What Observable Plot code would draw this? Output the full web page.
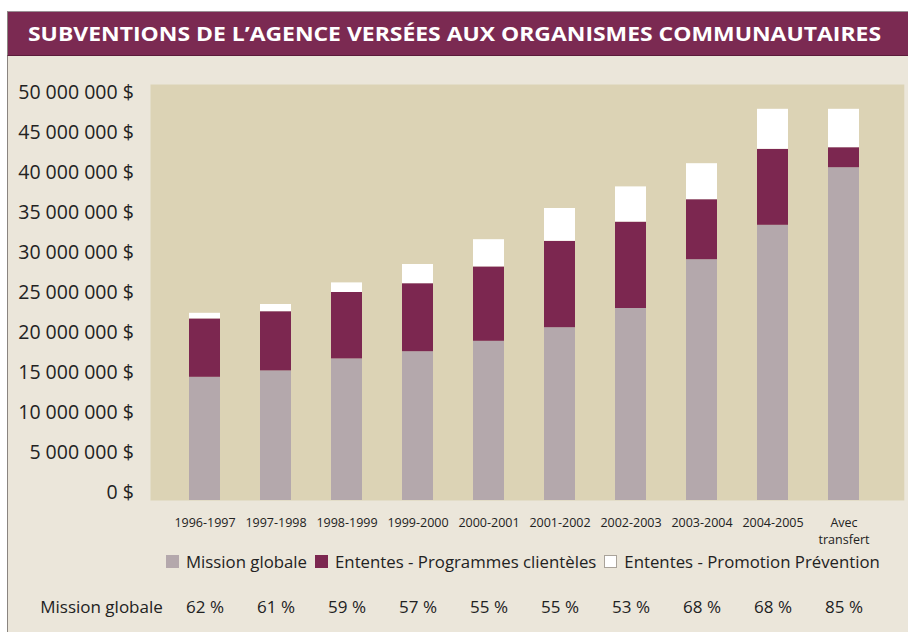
<!DOCTYPE html>
<html>
<head>
<meta charset="utf-8">
<script src="https://cdn.jsdelivr.net/npm/d3@7"></script>
<script src="https://cdn.jsdelivr.net/npm/@observablehq/plot@0.6"></script>
<style>
  html, body { margin: 0; padding: 0; background: #ffffff; }
  #wrap { position: relative; width: 908px; height: 632px; overflow: hidden; font-family: 'Open Sans', sans-serif; }
  #panel { position: absolute; left: 7px; top: 56px; width: 901px; height: 576px; background: #ebe6da; border-left: 1px solid #8a8580; box-sizing: border-box; }
  #titlebar { position: absolute; left: 7px; top: 11px; width: 901px; height: 45px; background: #7b2a52; border-top: 1px solid #9a8f94; border-left: 1px solid #8a8580; border-bottom: 1px solid #5c1c3b; box-sizing: border-box; }
  #title { position: absolute; left: 20px; top: 50%; color: #ffffff; font-weight: 700; font-size: 20px; white-space: nowrap; transform-origin: 0 50%; line-height: 1; }
  #chart { position: absolute; left: 0; top: 0; }
  #legend { position: absolute; left: 166px; top: 550px; display: flex; align-items: center; font-size: 16.8px; color: #222; white-space: nowrap; }
  #legend .sw { width: 13px; height: 13px; box-sizing: border-box; margin-right: 7px; }
  #legend .it { display: flex; align-items: center; margin-right: 8px; }
</style>
</head>
<body>
<div id="wrap">
  <div id="panel"></div>
  <div id="titlebar"><span id="title">SUBVENTIONS DE L’AGENCE VERSÉES AUX ORGANISMES COMMUNAUTAIRES</span></div>
  <div id="chart"></div>
  <div id="legend"></div>
</div>
<script>
const categories = ["1996-1997", "1997-1998", "1998-1999", "1999-2000", "2000-2001", "2001-2002", "2002-2003", "2003-2004", "2004-2005", "Avec transfert"];
const seriesNames = ["Mission globale", "Ententes - Programmes clientèles", "Ententes - Promotion Prévention"];
const seriesColors = ["#b4a8ac", "#7c2750", "#ffffff"];
// values in millions of dollars
const missionGlobale = [15.4, 16.2, 17.7, 18.6, 19.9, 21.6, 24.0, 30.1, 34.4, 41.6];
const programmesClienteles = [7.3, 7.4, 8.3, 8.5, 9.3, 10.8, 10.8, 7.5, 9.5, 2.5];
const promotionPrevention = [0.7, 0.9, 1.2, 2.4, 3.4, 4.1, 4.4, 4.5, 5.0, 4.8];
const missionPct = ["62 %", "61 %", "59 %", "57 %", "55 %", "55 %", "53 %", "68 %", "68 %", "85 %"];
const yTicks = [0, 5e6, 10e6, 15e6, 20e6, 25e6, 30e6, 35e6, 40e6, 45e6, 50e6];
const pctRowLabel = "Mission globale";

const seriesValues = [missionGlobale, programmesClienteles, promotionPrevention];
const rows = [];
seriesNames.forEach((s, si) => {
  categories.forEach((c, ci) => rows.push({cat: c, series: s, value: seriesValues[si][ci] * 1e6}));
});
const pctRows = categories.map((c, i) => ({cat: c, text: missionPct[i]}));

const fmtMoney = d => d3.format(",")(d).replace(/,/g, "\u00a0") + "\u00a0$";

const chart = Plot.plot({
  width: 908,
  height: 632,
  marginTop: 84,
  marginBottom: 132,
  marginLeft: 145.3,
  marginRight: 5.7,
  style: {fontFamily: "'Open Sans', sans-serif", background: "transparent", color: "#222"},
  x: {type: "band", domain: categories, padding: 0.558, label: null},
  y: {domain: [0, 52e6], label: null},
  color: {domain: seriesNames, range: seriesColors},
  marks: [
    Plot.frame({fill: "#dcd3b5", stroke: null, insetLeft: 4.7, insetRight: -1.5}),
    Plot.barY(rows, {x: "cat", y: "value", fill: "series"}),
    Plot.axisY({ticks: yTicks, tickFormat: fmtMoney, tickSize: 0, tickPadding: 12, fontSize: 19.5, dy: -8, fill: "#222", label: null}),
    Plot.axisX({tickSize: 0, tickPadding: 14, fontSize: 12.5, fontWeight: 500, lineHeight: 1.37, fill: "#222", label: null,
      tickFormat: d => d.replace("Avec ", "Avec\n")}),
    Plot.text(pctRows, {x: "cat", text: "text", frameAnchor: "bottom", dy: 112, fontSize: 17, fill: "#222"}),
    Plot.text([pctRowLabel], {text: d => d, frameAnchor: "bottom-left", textAnchor: "end", dx: 17, dy: 112, fontSize: 17, fill: "#222"})
  ]
});
document.getElementById("chart").appendChild(chart);

// legend
const legend = document.getElementById("legend");
seriesNames.forEach((s, i) => {
  const it = document.createElement("div");
  it.className = "it";
  const sw = document.createElement("div");
  sw.className = "sw";
  sw.style.background = seriesColors[i];
  if (seriesColors[i] === "#ffffff") sw.style.border = "1px solid #a9a39a";
  const tx = document.createElement("span");
  tx.textContent = s;
  it.appendChild(sw); it.appendChild(tx);
  legend.appendChild(it);
});

// fit title width (condensed look, spans x 27..880)
const t = document.getElementById("title");
const w = t.getBoundingClientRect().width;
t.style.transform = "translateY(-50%) scaleX(" + (853 / w) + ")";
</script>
</body>
</html>
